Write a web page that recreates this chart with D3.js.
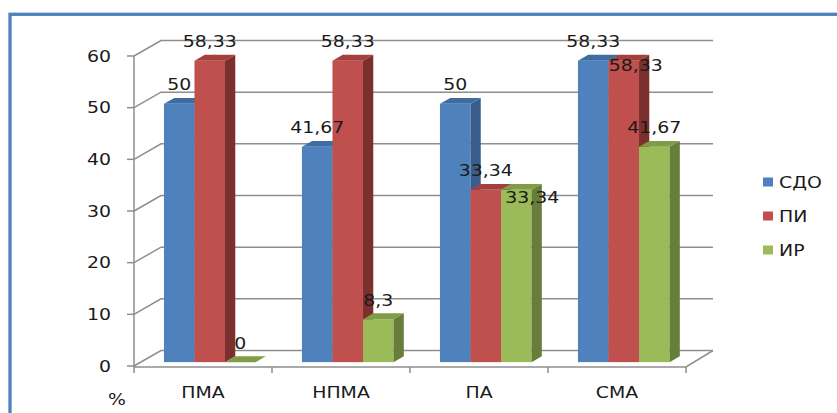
<!DOCTYPE html>
<html><head><meta charset="utf-8">
<script src="https://cdn.jsdelivr.net/npm/d3@7"></script>
<style>html,body{margin:0;padding:0;background:#fff;}svg{display:block;}</style>
</head><body>
<script>
// ---- data ----
const categories = ["ПМА", "НПМА", "ПА", "СМА"];
const seriesNames = ["СДО", "ПИ", "ИР"];
const sdoValues = [50, 41.67, 50, 58.33];
const piValues = [58.33, 58.33, 33.34, 58.33];
const irValues = [0, 8.3, 33.34, 41.67];
const yTicks = [0, 10, 20, 30, 40, 50, 60];
const axisUnit = "%";

// ---- layout / style ----
const W = 837, H = 413;
const seriesValues = [sdoValues, piValues, irValues];
const colors = {
  front: ["#4F81BD", "#C0504D", "#9BBB59"],
  side: ["#385D8A", "#7B302E", "#677D3A"],
  top: ["#3F6CA3", "#A3403D", "#7F9C47"]
};
const depth = [27, -15.5];          // floor depth vector
const barFront = 0.25, barBack = 0.63; // bar depth fractions
const labelNudge = { "ИР|ПА": [16, 27], "ПИ|СМА": [12, 24] };
const sx = 1.26; // horizontal text stretch
const font = "'DejaVu Sans', Verdana, sans-serif";

const svg = d3.select("body").append("svg").attr("width", W).attr("height", H);

// frame
svg.append("rect").attr("x", 10).attr("y", 14.3).attr("width", 900).attr("height", 500)
  .attr("fill", "none").attr("stroke", "#4F81BD").attr("stroke-width", 3.3);

const x = d3.scaleBand().domain(categories).range([134, 686]).paddingInner(0).paddingOuter(0);
const x1 = d3.scaleBand().domain(seriesNames).range([0, x.bandwidth()]).paddingInner(0).paddingOuter(0.76);
const y = d3.scaleLinear().domain([0, 60]).range([366, 56]);

const x0 = x.range()[0], xEnd = x.range()[1];
const grid = svg.append("g").attr("stroke", "#8E8E8E").attr("stroke-width", 1.5).attr("fill", "none");

// back wall gridlines + left wall diagonals
yTicks.forEach(t => {
  const yy = y(t);
  grid.append("path").attr("d", `M${x0},${yy}L${x0 + depth[0]},${yy + depth[1]}L${xEnd + depth[0]},${yy + depth[1]}`);
  // tick mark
  grid.append("line").attr("x1", x0 - 7).attr("x2", x0).attr("y1", yy).attr("y2", yy);
});
// vertical axis line
grid.append("line").attr("x1", x0).attr("x2", x0).attr("y1", y(60)).attr("y2", y(0) + 1);
// floor front edge and right diagonal
grid.append("path").attr("d", `M${x0},${y(0) + 1}L${xEnd},${y(0) + 1}L${xEnd + depth[0]},${y(0) + depth[1]}`);
// category ticks
[...categories.map(c => x(c)), xEnd].forEach(px => {
  grid.append("line").attr("x1", px).attr("x2", px).attr("y1", y(0) + 1).attr("y2", y(0) + 7);
});

function stretchedText(g, px, py, txt, anchor, size) {
  return g.append("text")
    .attr("transform", `translate(${px},${py}) scale(${sx},1)`)
    .attr("text-anchor", anchor).attr("font-family", font).attr("font-size", size)
    .attr("fill", "#1a1a1a").text(txt);
}

// y labels
const yl = svg.append("g");
yTicks.forEach(t => stretchedText(yl, 111, y(t) + 5.5, String(t), "end", 15));
// category labels
categories.forEach(c => stretchedText(yl, x(c) + x.bandwidth() / 2, 398, c, "middle", 15));
stretchedText(yl, 117, 405, axisUnit, "middle", 15);

// bars
const fx = depth[0] * barFront, fy = depth[1] * barFront;
const bx = depth[0] * barBack, by = depth[1] * barBack;
const bars = svg.append("g");
const labels = [];
categories.forEach((c, ci) => {
  seriesNames.forEach((s, si) => {
    const v = seriesValues[si][ci];
    const left = x(c) + x1(s) + fx;
    const right = left + x1.bandwidth();
    const top = y(v) + fy;
    const bottom = y(0) + fy;
    const dX = bx - fx, dY = by - fy;
    const g = bars.append("g");
    g.append("rect").attr("x", left).attr("y", top).attr("width", right - left).attr("height", bottom - top)
      .attr("fill", colors.front[si]);
    g.append("path").attr("d", `M${right},${top}L${right + dX},${top + dY}L${right + dX},${bottom + dY}L${right},${bottom}Z`)
      .attr("fill", colors.side[si]);
    g.append("path").attr("d", `M${left},${top}L${left + dX},${top + dY}L${right + dX},${top + dY}L${right},${top}Z`)
      .attr("fill", colors.top[si]);
    const nudge = labelNudge[s + "|" + c] || [0, 0];
    labels.push({ x: (left + right) / 2 + nudge[0], y: top - 13.5 + nudge[1], t: String(v).replace(".", ",") });
  });
});
const lg = svg.append("g");
labels.forEach(l => stretchedText(lg, l.x, l.y, l.t, "middle", 15));

// legend
const leg = svg.append("g");
seriesNames.forEach((s, i) => {
  const cy = 182 + i * 34;
  leg.append("rect").attr("x", 763).attr("y", cy - 4.5).attr("width", 10).attr("height", 9).attr("fill", colors.front[i]);
  stretchedText(leg, 779, cy + 5.5, s, "start", 15);
});
</script>
</body></html>
